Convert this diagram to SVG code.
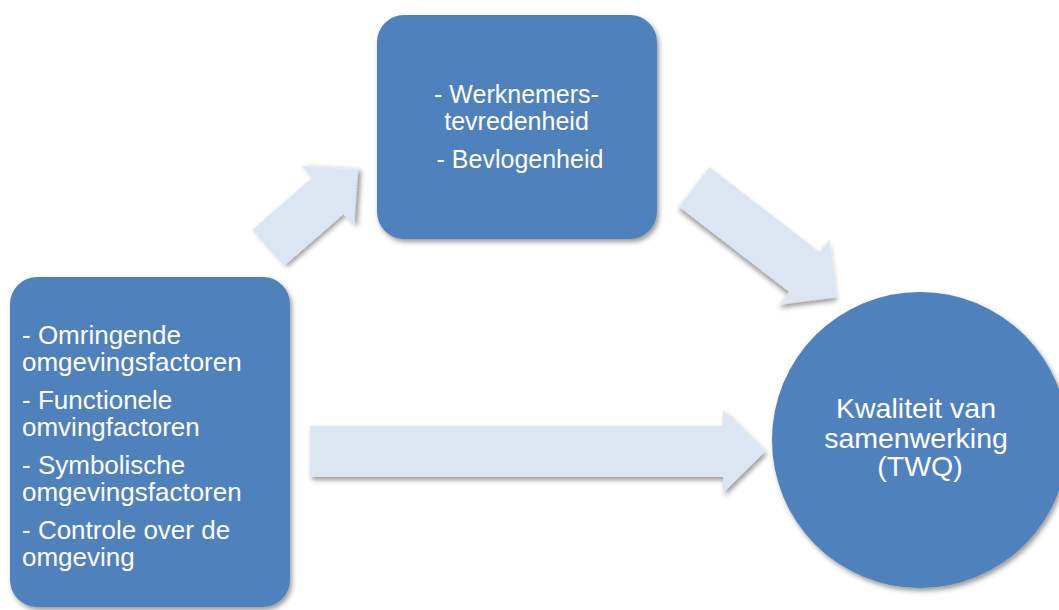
<svg xmlns="http://www.w3.org/2000/svg" width="1059" height="610" viewBox="0 0 1059 610">
  <defs>
    <filter id="sh" x="-20%" y="-20%" width="140%" height="140%">
      <feDropShadow dx="2" dy="3" stdDeviation="2.5" flood-color="#000" flood-opacity="0.4"/>
    </filter>
    <style>
      .node { fill: #4F81BD; filter: url(#sh); }
      .arrow { fill: #DCE6F2; filter: url(#sh); }
      .t { font-family: "Liberation Sans", Arial, sans-serif; fill: #FFFFFF; }
    </style>
  </defs>
  <rect width="1059" height="610" fill="#FFFFFF"/>

  <g id="connectors">
    <!-- up-right arrow -->
    <polygon class="arrow" transform="translate(268,248) rotate(-41)" points="0,-24 79,-24 79,-40 119,0 79,40 79,24 0,24"/>
    <!-- down-right arrow -->
    <polygon class="arrow" transform="translate(694.5,187) rotate(37.7)" points="0,-25 139,-25 139,-41 180,0 139,41 139,25 0,25"/>
    <!-- horizontal arrow -->
    <polygon class="arrow" points="310,426 723,426 723,410 765,451.5 723,493 723,477 310,477"/>
  </g>

  <g id="node-top">
    <rect class="node" x="377" y="15" width="280" height="224" rx="27" ry="27"/>
    <text class="t" font-size="25" text-anchor="middle">
      <tspan x="520" y="103">- Werknemers-</tspan>
      <tspan x="520" y="130">tevredenheid</tspan>
      <tspan x="520" y="168">- Bevlogenheid</tspan>
    </text>
  </g>

  <g id="node-left">
    <rect class="node" x="10" y="277" width="280" height="330" rx="27" ry="27"/>
    <text class="t" font-size="26">
      <tspan x="22" y="344">- Omringende</tspan>
      <tspan x="22" y="371">omgevingsfactoren</tspan>
      <tspan x="22" y="409">- Functionele</tspan>
      <tspan x="22" y="436">omvingfactoren</tspan>
      <tspan x="22" y="474">- Symbolische</tspan>
      <tspan x="22" y="501">omgevingsfactoren</tspan>
      <tspan x="22" y="539">- Controle over de</tspan>
      <tspan x="22" y="566">omgeving</tspan>
    </text>
  </g>

  <g id="node-circle">
    <circle class="node" cx="920" cy="440" r="148"/>
    <text class="t" font-size="28.5" text-anchor="middle">
      <tspan x="920" y="418">Kwaliteit van</tspan>
      <tspan x="920" y="448">samenwerking</tspan>
      <tspan x="920" y="476">(TWQ)</tspan>
    </text>
  </g>
</svg>
